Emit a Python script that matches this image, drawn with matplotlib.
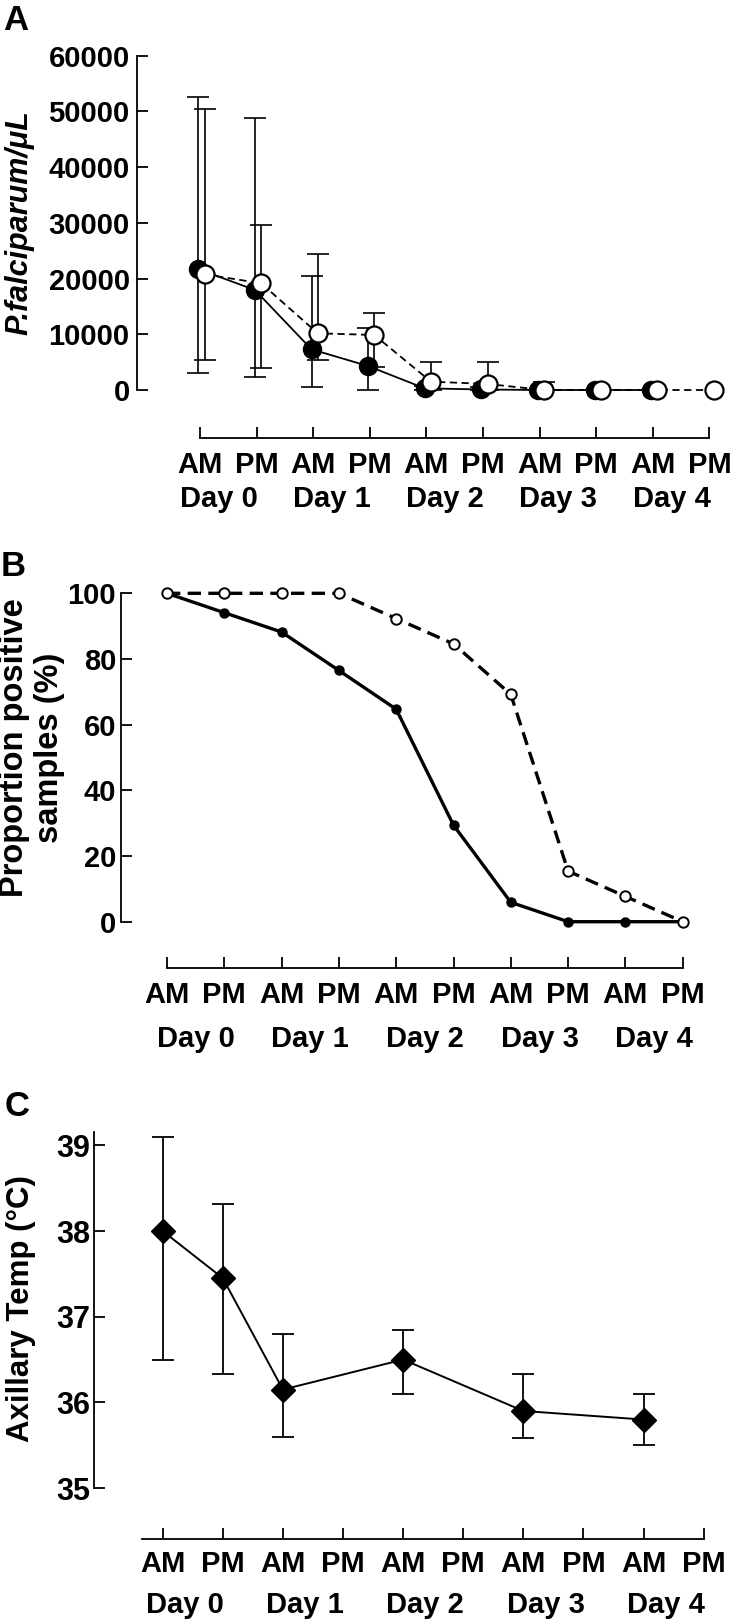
import numpy as np
import matplotlib
matplotlib.use("Agg")
import matplotlib.pyplot as plt

plt.rcParams['font.family'] = ['Liberation Sans', 'DejaVu Sans']
plt.rcParams['font.weight'] = 'bold'

# ---- data ----
ampm = ['AM', 'PM'] * 5
days = ['Day 0', 'Day 1', 'Day 2', 'Day 3', 'Day 4']

# A: parasite density (filled = solid line, open = dashed line)
a_filled = np.array([21700, 17950, 7300, 4300, 300, 100, 0, 0, 0])
a_filled_hi = np.array([52550, 48900, 20470, 11100, 800, 500, 0, 0, 0])
a_filled_lo = np.array([3100, 2400, 600, 0, 0, 0, 0, 0, 0])
a_open = np.array([20770, 19150, 10180, 9870, 1500, 1080, 0, 0, 0, 0])
a_open_hi = np.array([50400, 29560, 24360, 13880, 5090, 5090, 1500, 0, 0, 0])
a_open_lo = np.array([5390, 3890, 5390, 4100, 0, 0, 0, 0, 0, 0])

# B: proportion positive samples (%)
b_filled = np.array([100, 94.1, 88.2, 76.5, 64.7, 29.4, 5.9, 0, 0, 0])
b_open = np.array([100, 100, 100, 100, 92.3, 84.6, 69.2, 15.4, 7.7, 0])

# C: axillary temperature
c_x = np.array([0, 1, 2, 4, 6, 8])
c_temp = np.array([38.0, 37.45, 36.15, 36.5, 35.9, 35.8])
c_hi = np.array([39.1, 38.32, 36.8, 36.85, 36.33, 36.1])
c_lo = np.array([36.5, 36.33, 35.6, 36.1, 35.58, 35.5])

W, H = 733, 1622
fig = plt.figure(figsize=(W / 100, H / 100), dpi=100)


def box(x0, x1, ytop, ybot):
    return [x0 / W, 1 - ybot / H, (x1 - x0) / W, (ybot - ytop) / H]


def style(ax, xlo, ylims, gap_px, lab_pad, day_pad, day_off, fs):
    for s in ['top', 'right']:
        ax.spines[s].set_visible(False)
    ax.spines['left'].set_bounds(*ylims)
    ax.spines['bottom'].set_position(('outward', gap_px * 0.72))
    ax.spines['bottom'].set_bounds(xlo, 9)
    for s in ['left', 'bottom']:
        ax.spines[s].set_linewidth(1.3)
    ax.set_xticks(range(10))
    ax.set_xticklabels(ampm)
    ax.set_xticks(np.arange(0, 10, 2) + day_off, minor=True)
    ax.set_xticklabels(days, minor=True)
    ax.tick_params(which='major', direction='in', length=8, width=1.3, labelsize=fs)
    ax.tick_params(axis='x', which='major', pad=lab_pad)
    ax.tick_params(axis='x', which='minor', length=0, pad=day_pad, labelsize=fs)


def draw_err(ax, x, m, lo, hi, lw=1.2, cap=8):
    k = (hi > m) | (lo < m)
    ax.errorbar(x[k], m[k], yerr=[m[k] - lo[k], hi[k] - m[k]], fmt='none',
                ecolor='black', elinewidth=lw, capsize=cap, capthick=lw, zorder=2)


# ---------- Panel A ----------
axA = fig.add_axes(box(200 - 56.6 * 1.12, 200 + 56.6 * 9.3, 55.7, 390))
axA.set_xlim(-1.12, 9.3)
axA.set_ylim(0, 60000)
xa_f = np.arange(len(a_filled)) - 0.03
xa_o = np.arange(len(a_open)) + 0.08
draw_err(axA, xa_f, a_filled, a_filled_lo, a_filled_hi)
draw_err(axA, xa_o, a_open, a_open_lo, a_open_hi)
axA.plot(xa_f, a_filled, '-', color='black', lw=1.3, marker='o', ms=13,
         mfc='black', mec='black', zorder=3, clip_on=False)
axA.plot(xa_o, a_open, '--', color='black', lw=1.3, dashes=(4, 2.5), marker='o', ms=13,
         mfc='white', mec='black', mew=1.6, zorder=4, clip_on=False)
axA.set_yticks(range(0, 60001, 10000))
style(axA, 0, (0, 60000), 47.7, 9.8, 33.8, 0.33, 21)
axA.tick_params(axis='y', pad=5)
fig.text(19 / W, 1 - 223 / H, 'P.falciparum/\u03bcL', rotation=90, style='italic',
         fontsize=22, ha='center', va='center')
fig.text(16 / W, 1 - 20 / H, 'A', fontsize=25, ha='center', va='center')

# ---------- Panel B ----------
axB = fig.add_axes(box(167 - 57.3 * 0.8, 167 + 57.3 * 9.3, 593.3, 921.7))
axB.set_xlim(-0.8, 9.3)
axB.set_ylim(0, 100)
xb = np.arange(10)
axB.plot(xb, b_filled, '-', color='black', lw=2.4, marker='o', ms=6.5,
         mfc='black', mec='black', zorder=3, clip_on=False)
axB.plot(xb, b_open, '--', color='black', lw=2.4, dashes=(4, 2.2), marker='o', ms=7.5,
         mfc='white', mec='black', mew=1.4, zorder=4, clip_on=False)
axB.set_yticks(range(0, 101, 20))
style(axB, 0, (0, 100), 46.6, 9.0, 40.5, 0.5, 21)
axB.tick_params(axis='y', pad=3.6)
fig.text(32 / W, 1 - 748 / H, 'Proportion positive\nsamples (%)', rotation=90,
         fontsize=23.5, ha='center', va='center', linespacing=1.2)
fig.text(13 / W, 1 - 566 / H, 'B', fontsize=25, ha='center', va='center')

# ---------- Panel C ----------
axC = fig.add_axes(box(162.7 - 60.1 * 1.135, 162.7 + 60.1 * 9.3, 1132.5, 1488.1))
axC.set_xlim(-1.135, 9.3)
axC.set_ylim(35, 39.15)
draw_err(axC, c_x, c_temp, c_lo, c_hi, lw=1.3, cap=8)
axC.plot(c_x, c_temp, '-', color='black', lw=1.4, marker='D', ms=12,
         mfc='black', mec='black', zorder=3, clip_on=False)
axC.set_yticks(range(35, 40))
style(axC, -0.34, (35, 39.15), 51, 8.0, 37.5, 0.37, 21)
axC.tick_params(axis='y', pad=3.2, labelsize=22)
fig.text(21 / W, 1 - 1309 / H, 'Axillary Temp (\u00b0C)', rotation=90,
         fontsize=22.5, ha='center', va='center')
fig.text(17 / W, 1 - 1106 / H, 'C', fontsize=25, ha='center', va='center')

fig.savefig('out.png', dpi=100)
